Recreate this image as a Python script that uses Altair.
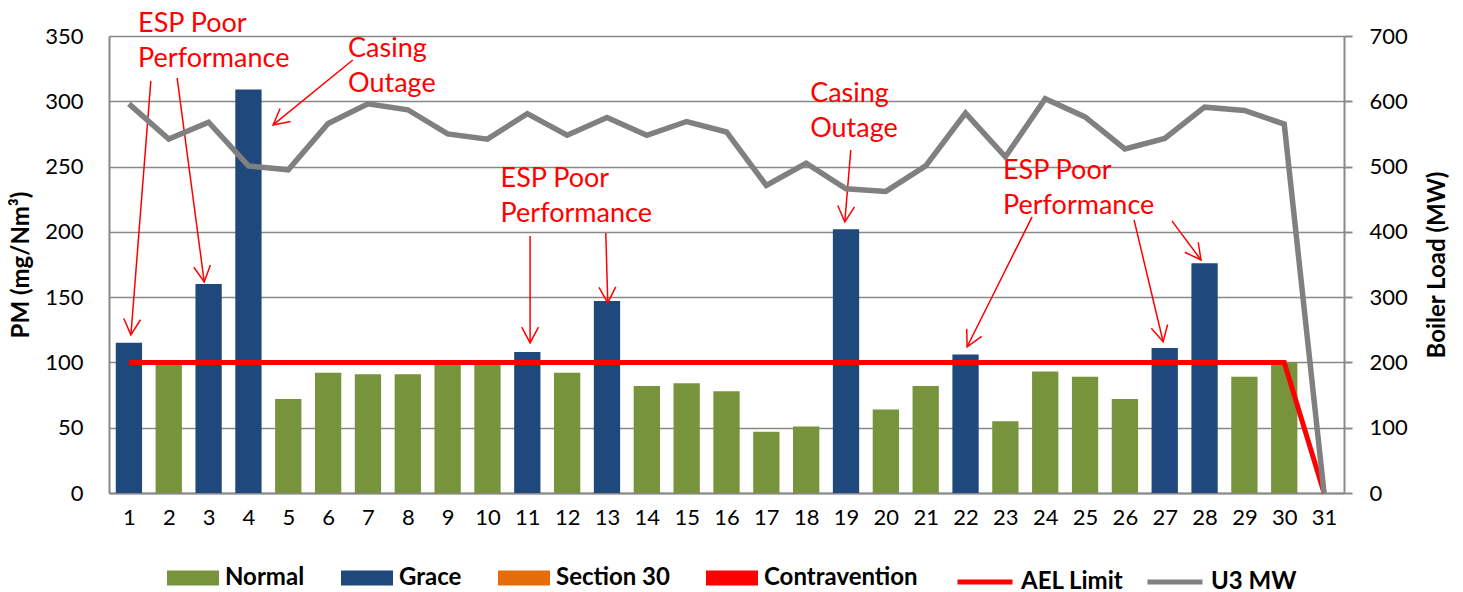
import math
import altair as alt
import pandas as pd

# ---------------- data ----------------
days = list(range(1, 32))
bar_days = list(range(1, 31))
pm_values = [115, 99, 160, 309, 72, 92, 91, 91, 99, 99,
             108, 92, 147, 82, 84, 78, 47, 51, 202, 64,
             82, 106, 55, 93, 89, 72, 111, 176, 89, 100]
pm_status = ["Grace", "Normal", "Grace", "Grace", "Normal", "Normal", "Normal", "Normal", "Normal", "Normal",
             "Grace", "Normal", "Grace", "Normal", "Normal", "Normal", "Normal", "Normal", "Grace", "Normal",
             "Normal", "Grace", "Normal", "Normal", "Normal", "Normal", "Grace", "Grace", "Normal", "Normal"]
ael_limit = [100, 100, 100, 100, 100, 100, 100, 100, 100, 100,
             100, 100, 100, 100, 100, 100, 100, 100, 100, 100,
             100, 100, 100, 100, 100, 100, 100, 100, 100, 100, 0]
u3_mw = [596, 542, 568, 501, 495, 566, 596, 587, 550, 542,
         581, 548, 575, 548, 569, 553, 471, 505, 466, 462,
         501, 582, 515, 604, 576, 527, 543, 591, 586, 565, 0]

status_names = ["Normal", "Grace", "Section 30", "Contravention"]
status_colors = ["#77933C", "#1F497D", "#E46C0A", "#FF0000"]
line_names = ["AEL Limit", "U3 MW"]
line_colors = ["#FF0000", "#808080"]

y_left_ticks = [0, 50, 100, 150, 200, 250, 300, 350]
y_right_ticks = [0, 100, 200, 300, 400, 500, 600, 700]

# annotations (in data units: day, PM)
note_text = ["ESP Poor\nPerformance", "Casing\nOutage", "ESP Poor\nPerformance",
             "Casing\nOutage", "ESP Poor\nPerformance"]
note_day = [1.23, 6.50, 10.33, 18.10, 22.94]
note_pm = [369, 350, 250.5, 315.6, 256.6]

arrow_day1 = [1.55, 2.21, 6.62, 11.07, 12.97, 19.12, 23.67, 26.23, 27.18]
arrow_pm1 = [315.6, 317.9, 331.6, 196.9, 199.2, 262.7, 211.5, 209.2, 208.4]
arrow_day2 = [1.05, 2.89, 4.62, 11.07, 13.02, 18.97, 22.04, 26.96, 27.91]
arrow_pm2 = [121.1, 161.7, 281.9, 115.0, 145.6, 207.6, 112.0, 115.8, 178.5]

# ---------------- layout ----------------
W, H = 1235, 457
PX_DAY = W / 31.0
PX_PM = H / 350.0
FONT = "Lato"
GRAY = "#888888"

bars_df = pd.DataFrame({"day": bar_days, "pm": pm_values, "status": pm_status})
ael_df = pd.DataFrame({"day": days, "v": ael_limit, "series": "AEL Limit"})
mw_df = pd.DataFrame({"day": days, "mw": u3_mw, "series": "U3 MW"})
note_df = pd.DataFrame({"day": note_day, "pm": note_pm, "text": note_text})

angles = []
for a, b, c, d in zip(arrow_day1, arrow_pm1, arrow_day2, arrow_pm2):
    dx = (c - a) * PX_DAY
    dy = -(d - b) * PX_PM
    angles.append(math.degrees(math.atan2(-dx, dy)) % 360)
arrow_df = pd.DataFrame({"d1": arrow_day1, "p1": arrow_pm1, "d2": arrow_day2,
                         "p2": arrow_pm2, "ang": angles})

x_scale = alt.Scale(domain=[0.5, 31.5], nice=False, zero=False)
y_scale = alt.Scale(domain=[0, 350], nice=False)

fill_scale = alt.Scale(domain=status_names, range=status_colors)
stroke_scale = alt.Scale(domain=line_names, range=line_colors)

fill_legend = alt.Legend(
    orient="none", legendX=58, legendY=516, direction="horizontal", title=None,
    symbolType="M-1,-0.29H1V0.29H-1Z", symbolSize=2704, symbolStrokeWidth=0,
    symbolOpacity=1, labelFont=FONT, labelFontSize=24, labelFontWeight="bold",
    labelColor="black", labelOffset=6, columnPadding=36, padding=0,
)
stroke_legend = alt.Legend(
    orient="none", legendX=846, legendY=516, direction="horizontal", title=None,
    symbolType="M-1,0H1", symbolSize=3025, symbolStrokeWidth=5,
    symbolOpacity=1, labelFont=FONT, labelFontSize=24, labelFontWeight="bold",
    labelColor="black", labelOffset=6, columnPadding=13, padding=0,
)

x_axis = alt.Axis(values=days, format="d", title=None, grid=False, ticks=False,
                  tickSize=0, labelFont=FONT, labelFontSize=22, labelColor="black",
                  labelPadding=14, domainColor=GRAY, domainWidth=2, labelFlush=False)

y_axis = alt.Axis(
    values=y_left_ticks, title="PM (mg/Nm³)", grid=True, gridColor=GRAY,
    gridWidth=1.5, ticks=False, tickSize=0, labelFont=FONT, labelFontSize=22,
    labelColor="black", labelPadding=26, domainColor=GRAY, domainWidth=2,
    titleFont=FONT, titleFontSize=24, titleFontWeight="bold", titleColor="black",
    titlePadding=11)

bars = alt.Chart(bars_df).transform_calculate(
    x0="datum.day - 0.33", x1="datum.day + 0.33"
).mark_bar().encode(
    x=alt.X("x0:Q", scale=x_scale, axis=x_axis),
    x2="x1:Q",
    y=alt.Y("pm:Q", scale=y_scale, axis=y_axis),
    y2=alt.datum(0),
    fill=alt.Fill("status:N", scale=fill_scale, legend=fill_legend),
)

ael = alt.Chart(ael_df).mark_line(strokeWidth=5).encode(
    x=alt.X("day:Q", scale=x_scale, axis=x_axis),
    y=alt.Y("v:Q", scale=y_scale, axis=y_axis),
    stroke=alt.Stroke("series:N", scale=stroke_scale, legend=stroke_legend),
)

notes = alt.Chart(note_df).mark_text(
    align="left", baseline="top", font=FONT, fontSize=27, color="#FF0000",
    lineBreak="\n", lineHeight=35,
).encode(
    x=alt.X("day:Q", scale=x_scale, axis=x_axis),
    y=alt.Y("pm:Q", scale=y_scale, axis=y_axis),
    text="text:N",
)

shafts = alt.Chart(arrow_df).mark_rule(color="#FF0000", strokeWidth=1.5).encode(
    x=alt.X("d1:Q", scale=x_scale, axis=x_axis),
    y=alt.Y("p1:Q", scale=y_scale, axis=y_axis),
    x2="d2:Q",
    y2="p2:Q",
)

heads = alt.Chart(arrow_df).mark_point(
    shape="M-0.53,-1L0,0L0.53,-1", filled=False, size=1000, stroke="#FF0000",
    strokeWidth=1.5, opacity=1,
).encode(
    x=alt.X("d2:Q", scale=x_scale, axis=x_axis),
    y=alt.Y("p2:Q", scale=y_scale, axis=y_axis),
    angle=alt.Angle("ang:Q", scale=None),
)

left = alt.layer(bars, ael, shafts, heads, notes)

mw_line = alt.Chart(mw_df).mark_line(strokeWidth=5.5).encode(
    x=alt.X("day:Q", scale=x_scale, axis=x_axis),
    y=alt.Y("mw:Q", scale=alt.Scale(domain=[0, 700], nice=False), axis=alt.Axis(
        orient="right", values=y_right_ticks, title="Boiler Load (MW)", grid=False,
        ticks=True, tickSize=8, tickColor=GRAY, tickWidth=2, labelFont=FONT,
        labelFontSize=22, labelColor="black", labelPadding=17, domainColor=GRAY,
        domainWidth=2, titleFont=FONT, titleFontSize=24, titleFontWeight="bold",
        titleColor="black", titleAngle=270, titleBaseline="top", titlePadding=18)),
    stroke=alt.Stroke("series:N", scale=stroke_scale, legend=stroke_legend),
)

chart = alt.layer(left, mw_line).resolve_scale(y="independent").properties(
    width=W, height=H,
    autosize=alt.AutoSizeParams(type="none"),
    padding={"left": 101, "top": 28, "right": 110, "bottom": 100},
).configure_view(stroke=None).configure(font=FONT)

chart.save("out.html", embed_options={"renderer": "svg", "actions": False})
